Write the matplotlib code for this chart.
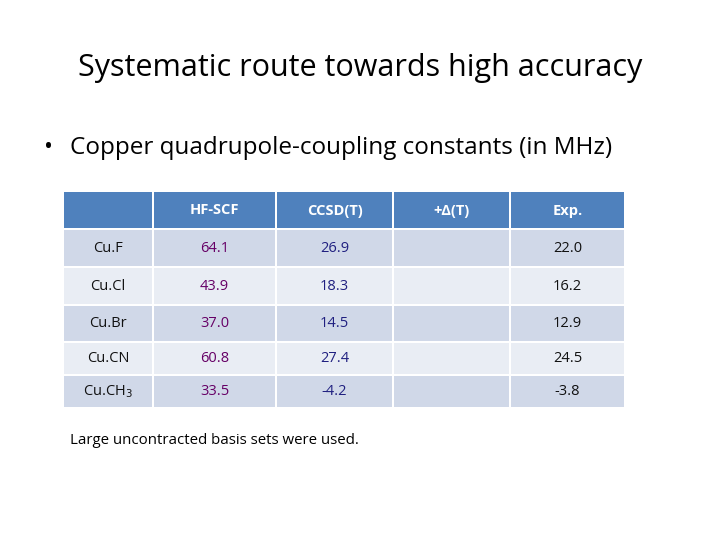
import matplotlib
matplotlib.use("Agg")
import matplotlib.pyplot as plt
from matplotlib.patches import Rectangle

plt.rcParams['font.family'] = ['Open Sans', 'DejaVu Sans']

columns = ["", "HF-SCF", "CCSD(T)", "+Δ(T)", "Exp."]
molecules = ["Cu.F", "Cu.Cl", "Cu.Br", "Cu.CN", "Cu.CH$_3$"]
hf_scf = ["64.1", "43.9", "37.0", "60.8", "33.5"]
ccsdt = ["26.9", "18.3", "14.5", "27.4", "-4.2"]
delta_t = ["", "", "", "", ""]
exp_vals = ["22.0", "16.2", "12.9", "24.5", "-3.8"]

fig = plt.figure(figsize=(7.2, 5.4), dpi=100)
ax = fig.add_axes([0, 0, 1, 1])
ax.set_xlim(0, 720); ax.set_ylim(540, 0); ax.axis('off')

ax.text(360, 68, "Systematic route towards high accuracy", ha='center', va='center', fontsize=22, color='black')
ax.text(44, 148, "•", ha='left', va='center', fontsize=17)
ax.text(70, 148, "Copper quadrupole-coupling constants (in MHz)", ha='left', va='center', fontsize=17.5)

xs = [63, 153, 276, 393, 510, 625]
ys = [192, 229, 267, 305, 342, 375, 408]
g = 2
for j in range(5):
    ax.add_patch(Rectangle((xs[j]+g/2, ys[0]), xs[j+1]-xs[j]-g, ys[1]-ys[0]-g/2, color='#4F81BD', lw=0))
    ax.text((xs[j]+xs[j+1])/2, (ys[0]+ys[1])/2, columns[j], ha='center', va='center', color='white', fontsize=10.5, fontweight='bold')
cols = [molecules, hf_scf, ccsdt, delta_t, exp_vals]
tcolors = ['#111111', '#660066', '#202080', '#111111', '#111111']
for i in range(5):
    fc = '#D0D8E8' if i % 2 == 0 else '#E9EDF4'
    for j in range(5):
        ax.add_patch(Rectangle((xs[j]+g/2, ys[i+1]+g/2), xs[j+1]-xs[j]-g, ys[i+2]-ys[i+1]-g, color=fc, lw=0))
        ax.text((xs[j]+xs[j+1])/2, (ys[i+1]+ys[i+2])/2, cols[j][i], ha='center', va='center', color=tcolors[j], fontsize=10.5)

ax.text(70, 440, "Large uncontracted basis sets were used.", ha='left', va='center', fontsize=10.8)
fig.savefig("out.png", dpi=100)
